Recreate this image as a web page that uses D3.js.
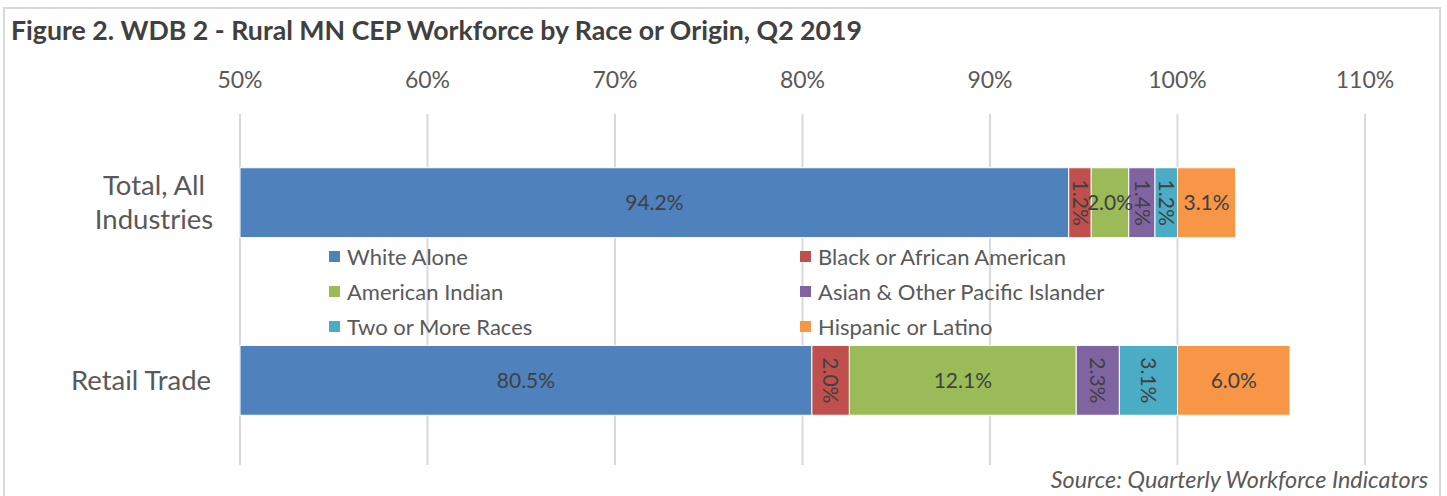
<!DOCTYPE html>
<html><head><meta charset="utf-8">
<script src="https://cdn.jsdelivr.net/npm/d3@7"></script>
<style>body{margin:0;background:#fff}svg{display:block}text{font-family:Lato,"Open Sans",sans-serif}</style>
</head><body><svg id="c" width="1447" height="496"></svg>
<script>
const categories = ["Total, All Industries", "Retail Trade"];
const categoryLines = [["Total, All", "Industries"], ["Retail Trade"]];
const seriesNames = ["White Alone", "Black or African American", "American Indian", "Asian & Other Pacific Islander", "Two or More Races", "Hispanic or Latino"];
const seriesColors = ["#4f81bd", "#c0504d", "#9bbb59", "#8064a2", "#4bacc6", "#f79646"];
const whiteAlone = [94.2, 80.5];
const blackAfrican = [1.2, 2.0];
const americanIndian = [2.0, 12.1];
const asianPacific = [1.4, 2.3];
const twoOrMore = [1.2, 3.1];
const hispanic = [3.1, 6.0];
const tickValues = [50, 60, 70, 80, 90, 100, 110];
const verticalLabels = [[false, true, false, true, true, false], [false, true, false, true, true, false]];

const svg = d3.select("#c");
const series = [whiteAlone, blackAfrican, americanIndian, asianPacific, twoOrMore, hispanic];
const x = d3.scaleLinear().domain([50, 110]).range([240, 1365]);
const y = d3.scaleBand().domain(categories).range([118, 465]).paddingInner(0.607).paddingOuter(0.28);

// border
svg.append("path").attr("d", "M4,496 V8 H1440 V496").attr("fill", "none").attr("stroke", "#d9d9d9").attr("stroke-width", 2);

svg.append("text").attr("x", 11).attr("y", 40).attr("font-size", 26.7).attr("font-weight", "bold").attr("fill", "#404040")
  .text("Figure 2. WDB 2 - Rural MN CEP Workforce by Race or Origin, Q2 2019");

// gridlines
svg.append("g").selectAll("line").data(tickValues).join("line")
  .attr("x1", d => x(d)).attr("x2", d => x(d)).attr("y1", 114).attr("y2", 465)
  .attr("stroke", "#d9d9d9").attr("stroke-width", 2);

// tick labels
svg.append("g").selectAll("text").data(tickValues).join("text")
  .attr("x", d => x(d)).attr("y", 88).attr("text-anchor", "middle").attr("font-size", 23).attr("fill", "#595959")
  .text(d => d + "%");

// stacks
const stacked = categories.map((c, ci) => {
  let acc = 0;
  return series.map((s, si) => { const v0 = acc; acc += s[ci]; return {c, ci, si, v0, v1: acc, v: s[ci]}; });
});
const gBars = svg.append("g");
stacked.forEach((segs, k) => {
  const g = gBars.append("g");
  g.selectAll("rect").data(segs).join("rect")
    .attr("x", d => x(Math.max(50, d.v0))).attr("width", d => x(d.v1) - x(Math.max(50, d.v0)))
    .attr("y", d => y(d.c)).attr("height", y.bandwidth())
    .attr("fill", d => seriesColors[d.si]).attr("stroke", "#fff").attr("stroke-width", 1);
  g.selectAll("text").data(segs).join("text")
    .attr("transform", d => {
      const cx = (x(Math.max(50, d.v0)) + x(d.v1)) / 2, cy = y(d.c) + y.bandwidth() / 2;
      return verticalLabels[d.ci][d.si] ? `translate(${cx},${cy}) rotate(90)` : `translate(${cx},${cy})`;
    })
    .attr("text-anchor", "middle").attr("dy", "0.35em").attr("font-size", 21).attr("fill", "#404040")
    .text(d => d.v.toFixed(1) + "%");
});

// category labels
categories.forEach((c, ci) => {
  const lines = categoryLines[ci];
  const cy = y(c) + y.bandwidth() / 2;
  const t = svg.append("text").attr("text-anchor", "middle").attr("font-size", 27.5).attr("fill", "#595959");
  lines.forEach((l, li) => {
    t.append("tspan").attr("x", lines.length > 1 ? 154 : 141).attr("y", cy + (li - (lines.length - 1) / 2) * 34).attr("dy", "0.35em").text(l);
  });
});

// legend
const leg = svg.append("g");
seriesNames.forEach((n, i) => {
  const col = i % 2, row = Math.floor(i / 2);
  const lx = col ? 800 : 329, ly = 257 + row * 35;
  leg.append("rect").attr("x", lx).attr("y", ly - 6).attr("width", 11).attr("height", 11).attr("fill", seriesColors[i]);
  leg.append("text").attr("x", lx + 18).attr("y", ly).attr("dy", "0.35em").attr("font-size", 22).attr("fill", "#595959").text(n);
});

svg.append("text").attr("x", 1428).attr("y", 488).attr("text-anchor", "end").attr("font-size", 23.4).attr("font-style", "italic").attr("fill", "#595959")
  .text("Source: Quarterly Workforce Indicators");
</script></body></html>
